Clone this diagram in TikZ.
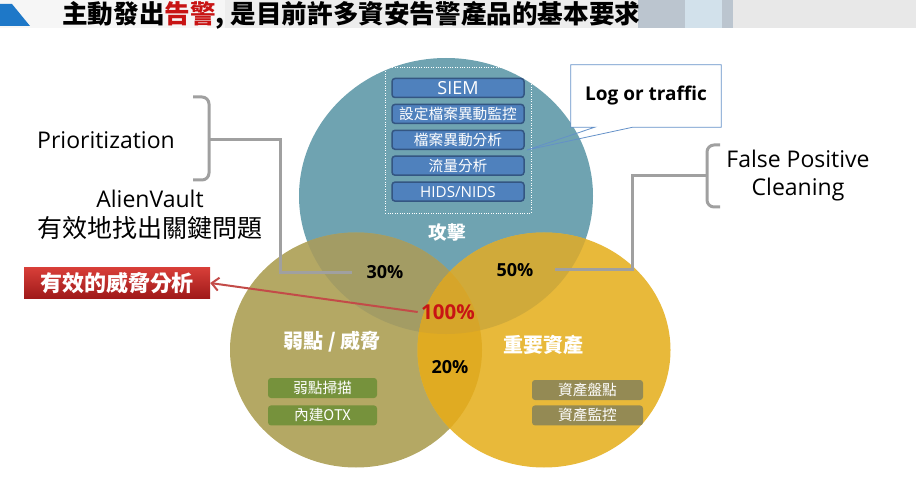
\documentclass[tikz,border=0pt]{standalone}
\usepackage{fontspec}
\setmainfont{Open Sans}
\newfontfamily\cjk{Noto Sans CJK TC}
\usetikzlibrary{positioning,fit,arrows.meta}
\definecolor{atkblue}{RGB}{111,163,177}
\definecolor{vulolive}{RGB}{180,168,100}
\definecolor{astgold}{RGB}{232,185,58}
\definecolor{ovab}{RGB}{163,156,100}
\definecolor{ovac}{RGB}{208,170,58}
\definecolor{ovbc}{RGB}{224,171,34}
\definecolor{ovabc}{RGB}{214,165,42}
\definecolor{boxfill}{RGB}{79,129,189}
\definecolor{boxline}{RGB}{52,86,130}
\definecolor{optgreen}{RGB}{118,146,60}
\definecolor{optgray}{RGB}{148,138,84}
\definecolor{brkgray}{RGB}{160,160,160}
\definecolor{hired}{RGB}{200,20,20}
\definecolor{callline}{RGB}{100,145,200}
\definecolor{hdslate}{RGB}{187,197,207}
\definecolor{hdsky}{RGB}{210,225,235}
\definecolor{hdtri}{RGB}{30,120,200}
\definecolor{redtop}{RGB}{215,62,56}
\definecolor{redbot}{RGB}{160,26,26}
\definecolor{arrred}{RGB}{195,75,72}

\begin{document}
\begin{tikzpicture}[x=1pt,y=-1pt,node distance=5.4pt,
  sbox/.style={draw=boxline,line width=1.5pt,fill=boxfill,rounded corners=3pt,minimum width=132pt,
    minimum height=19pt,inner sep=0pt,text=white,font=\cjk\fontsize{14.7}{15}\selectfont},
  obox/.style={fill=optgreen,rounded corners=3pt,minimum width=109pt,minimum height=20pt,inner sep=0pt,
    text=white,font=\cjk\fontsize{14.7}{15}\selectfont},
  brk/.style={draw=brkgray,line width=3pt,rounded corners=7pt},
  lnk/.style={draw=brkgray,line width=3pt},
  pct/.style={font=\fontsize{18}{20}\selectfont\bfseries},
  ctitle/.style={text=white,font=\cjk\bfseries\fontsize{20}{22}\selectfont},
  side/.style={font=\fontsize{23}{28}\selectfont,align=center}]

\useasboundingbox (0,0) rectangle (916,497);

\fill[gray!7] (0,0) rectangle (916,28);
\fill[gray!14] (225,0) rectangle (638,28);
\fill[hdslate] (638,0) rectangle (685,28);
\fill[hdsky] (685,0) rectangle (722,28);
\fill[hdslate] (722,0) rectangle (733,28);
\fill[gray!18] (733,0) rectangle (916,28);
\fill[hdtri] (0,4) -- (12,4) -- (30,26) -- (0,26) -- cycle;
\node (0) [anchor=west,inner sep=0pt,font=\cjk\bfseries\fontsize{25.6}{27}\selectfont] at (62,15)
  {主動發出\textcolor{hired}{告警}, 是目前許多資安告警產品的基本要求};

\fill[atkblue] (446,196) ellipse [x radius=147pt,y radius=138pt];
\fill[vulolive] (356,350) ellipse [x radius=126pt,y radius=117.5pt];
\fill[astgold] (544,350) ellipse [x radius=126.5pt,y radius=117.5pt];
\begin{scope}
\clip (446,196) ellipse [x radius=147pt,y radius=138pt];
\fill[ovab] (356,350) ellipse [x radius=126pt,y radius=117.5pt];
\fill[ovac] (544,350) ellipse [x radius=126.5pt,y radius=117.5pt];
\end{scope}
\begin{scope}
\clip (356,350) ellipse [x radius=126pt,y radius=117.5pt];
\fill[ovbc] (544,350) ellipse [x radius=126.5pt,y radius=117.5pt];
\clip (446,196) ellipse [x radius=147pt,y radius=138pt];
\fill[ovabc] (544,350) ellipse [x radius=126.5pt,y radius=117.5pt];
\end{scope}

\node (b1) [sbox,font=\fontsize{18}{19}\selectfont] at (458,88) {SIEM};
\node (b2) [sbox,below=of b1] {設定檔案異動監控};
\node (b3) [sbox,below=of b2] {檔案異動分析};
\node (b4) [sbox,below=of b3] {流量分析};
\node (b5) [sbox,below=of b4,font=\fontsize{15.2}{16}\selectfont] {HIDS/NIDS};
\node (fr) [fit=(b1)(b5),draw=white,dotted,inner xsep=6pt,inner ysep=11pt] {};

\node (1) [ctitle,font=\cjk\bfseries\fontsize{18.5}{20}\selectfont] at (447,232) {攻擊};
\node (2) [ctitle] at (332,342) {弱點 / 威脅};
\node (3) [ctitle] at (543,345) {重要資產};

\node (g1) [obox] at (322.5,388) {弱點掃描};
\node (g2) [obox,below=7pt of g1] {內建OTX};
\node (a1) [obox,fill=optgray,minimum width=111pt] at (587.5,390) {資產盤點};
\node (a2) [obox,fill=optgray,minimum width=111pt,below=5pt of a1] {資產監控};

\node (4) [pct] at (385,272) {30\%};
\node (5) [pct] at (515,270) {50\%};
\node (6) [pct] at (450,367) {20\%};
\node (9) [pct,text=hired,font=\fontsize{20.5}{22}\selectfont\bfseries] at (448,312) {100\%};

\node (lt) [fill=white,minimum width=150pt,minimum height=62pt,inner sep=0pt,
  font=\fontsize{19}{21}\selectfont\bfseries] at (646,96) {Log or traffic};
\coordinate (tp) at (527,150);
\draw[callline,line width=0.8pt] ([xshift=24pt]lt.south west) -- (lt.south west) -- (lt.north west)
  -- (lt.north east) -- (lt.south east) -- ([xshift=62pt]lt.south west) -- (tp) -- cycle;

\node (7) [side] at (106,140) {Prioritization};
\node (8) [side,font=\fontsize{23}{30}\selectfont] at (150,215) {AlienVault\\{\cjk\fontsize{25}{27}\selectfont 有效地找出關鍵問題}};
\node (10) [side] at (798,176) {False Positive\\Cleaning};

\node (rb) [top color=redtop,bottom color=redbot,
  minimum width=186pt,minimum height=30pt,inner sep=0pt,text=white,
  font=\cjk\bfseries\fontsize{22}{24}\selectfont] at (117,283) {有效的威脅分析};

\coordinate (c1) at (352,273);
\coordinate (c2) at (555,270);
\draw[brk] (193,97) -- (209,97) -- (209,180) -- (193,180);
\path[lnk] (209,140) -- (280,140) -- (280,273) -- (c1);
\draw[brk] (720,145) -- (707,145) -- (707,207) -- (720,207);
\path[lnk] (707,176) -- (632,176) -- (632,270) -- (c2);

\draw[-{Straight Barb[length=7pt,width=13pt]},draw=arrred,line width=2pt]
  (9.west) -- (rb.east);

\end{tikzpicture}
\end{document}
